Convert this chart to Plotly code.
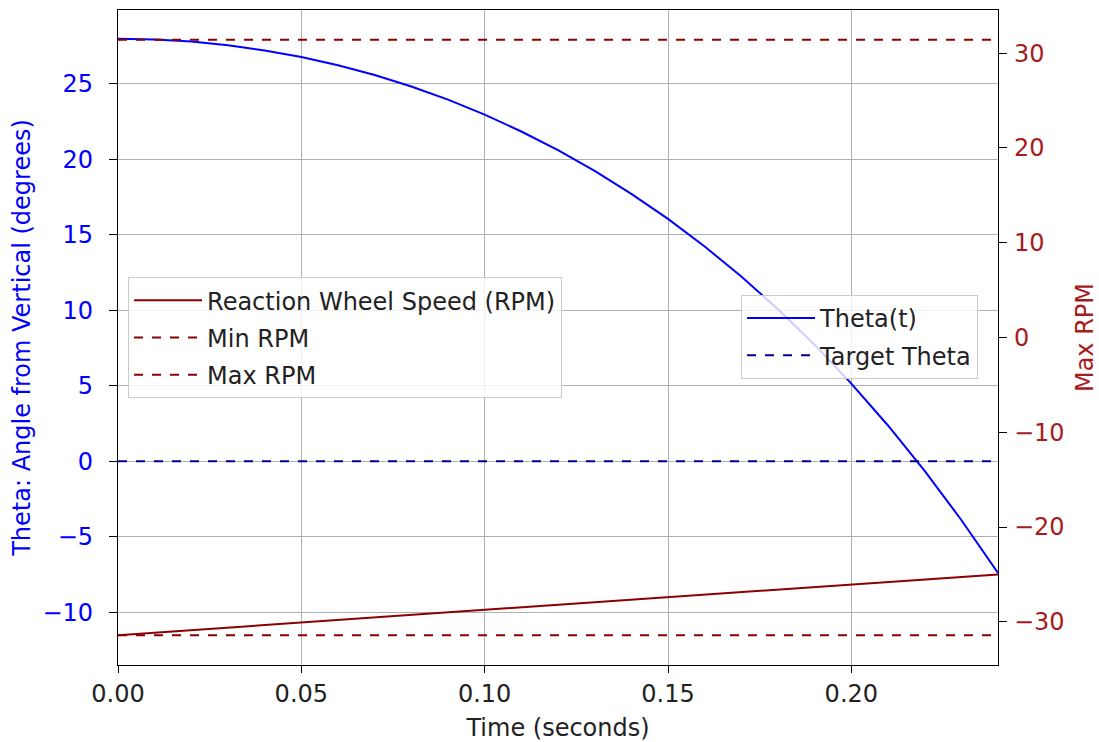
import plotly.graph_objects as go

# ---- data ----
time_s = [0.00, 0.01, 0.02, 0.03, 0.04, 0.05, 0.06, 0.07, 0.08, 0.09, 0.10, 0.11, 0.12,
          0.13, 0.14, 0.15, 0.16, 0.17, 0.18, 0.19, 0.20, 0.21, 0.22, 0.23, 0.24]
theta_deg = [28.00, 27.95, 27.81, 27.56, 27.22, 26.78, 26.24, 25.59, 24.83, 23.96, 22.97,
             21.85, 20.61, 19.24, 17.72, 16.06, 14.23, 12.24, 10.07, 7.71, 5.14, 2.37,
             -0.64, -3.89, -7.40]
rpm_time = [0.00, 0.24]
wheel_rpm = [-31.4, -25.0]
target_theta = 0.0
min_rpm = -31.4
max_rpm = 31.4
t_range = [0.0, 0.24]

x_ticks = [0.00, 0.05, 0.10, 0.15, 0.20]
x_tick_text = ["0.00", "0.05", "0.10", "0.15", "0.20"]
theta_ticks = [-10, -5, 0, 5, 10, 15, 20, 25]
rpm_ticks = [-30, -20, -10, 0, 10, 20, 30]

BLUE = "#0000ff"
DARKBLUE = "#00008b"
DARKRED = "#8b0000"
RPM_TEXT = "#a61c1c"
FONT = "DejaVu Sans"
FS = 24

fig = go.Figure()

# Right-axis series (legend 1)
fig.add_trace(go.Scatter(x=rpm_time, y=wheel_rpm, mode="lines", yaxis="y2",
                         name="Reaction Wheel Speed (RPM)", legend="legend",
                         legendgroup="a",
                         line=dict(color=DARKRED, width=2)))
fig.add_trace(go.Scatter(x=t_range, y=[min_rpm, min_rpm], mode="lines", yaxis="y2",
                         name="Min RPM", legend="legend", legendgroup="b",
                         line=dict(color=DARKRED, width=2, dash="dash")))
fig.add_trace(go.Scatter(x=t_range, y=[max_rpm, max_rpm], mode="lines", yaxis="y2",
                         name="Max RPM", legend="legend", legendgroup="c",
                         line=dict(color=DARKRED, width=2, dash="dash")))

# Left-axis series (legend 2)
fig.add_trace(go.Scatter(x=time_s, y=theta_deg, mode="lines", yaxis="y",
                         name="Theta(t)", legend="legend2", legendgroup="d",
                         line=dict(color=BLUE, width=2)))
fig.add_trace(go.Scatter(x=t_range, y=[target_theta, target_theta], mode="lines",
                         yaxis="y", name="Target Theta", legend="legend2",
                         legendgroup="e",
                         line=dict(color=DARKBLUE, width=2, dash="dash")))

legend_common = dict(
    bgcolor="rgba(255,255,255,0.8)",
    bordercolor="#cccccc",
    borderwidth=1,
    font=dict(family=FONT, size=FS, color="#222222"),
    xanchor="left", yanchor="top",
    tracegroupgap=3,
    traceorder="grouped",
    itemwidth=68,
)

fig.update_layout(
    width=1099, height=742,
    margin=dict(l=118, r=101, t=10, b=77, autoexpand=False),
    plot_bgcolor="white",
    paper_bgcolor="white",
    font=dict(family=FONT, size=FS, color="#222222"),
    xaxis=dict(
        range=t_range, automargin=False,
        tickvals=x_ticks, ticktext=x_tick_text,
        showgrid=True, gridcolor="#b0b0b0", gridwidth=1,
        zeroline=False,
        showline=True, linecolor="black", linewidth=1.3, mirror=True,
        ticks="outside", ticklen=7, tickcolor="black", tickwidth=1.2,
        tickfont=dict(family=FONT, size=FS, color="#222222"),
        title=dict(text="Time (seconds)", font=dict(family=FONT, size=FS, color="#222222"),
                   standoff=17),
    ),
    yaxis=dict(
        range=[-13.5, 29.9], automargin=False,
        tickvals=theta_ticks,
        showgrid=True, gridcolor="#b0b0b0", gridwidth=1,
        zeroline=False,
        showline=True, linecolor="black", linewidth=1.3,
        ticks="outside", ticklen=8, tickcolor="black", tickwidth=1.2,
        ticklabelstandoff=11,
        tickfont=dict(family=FONT, size=FS, color=BLUE),
        title=dict(text="Theta: Angle from Vertical (degrees)",
                   font=dict(family=FONT, size=FS, color=BLUE), standoff=4),
    ),
    yaxis2=dict(
        range=[-34.55, 34.55], automargin=False,
        tickvals=rpm_ticks,
        overlaying="y", side="right",
        showgrid=False, zeroline=False,
        showline=True, linecolor="black", linewidth=1.3,
        ticks="outside", ticklen=8, tickcolor="black", tickwidth=1.2,
        ticklabelstandoff=2,
        tickfont=dict(family=FONT, size=FS, color=RPM_TEXT),
        title=dict(text="Max RPM", font=dict(family=FONT, size=FS, color=RPM_TEXT),
                   standoff=18),
    ),
    legend=dict(x=0.0114, y=0.592, **legend_common),
    legend2=dict(x=0.708, y=0.565, **legend_common),
)

fig.write_html("out.html")
